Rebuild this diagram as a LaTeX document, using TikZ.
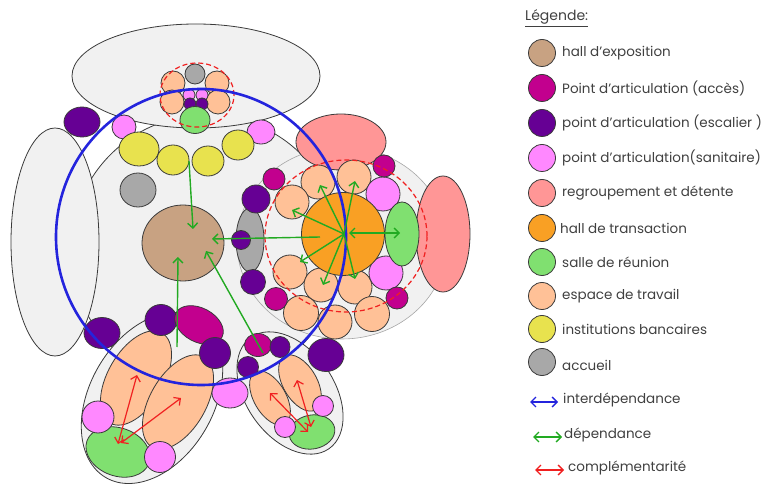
\documentclass[tikz,border=0pt]{standalone}
\usepackage{fontspec}
\setmainfont{Poppins}
\definecolor{expocol}{HTML}{C8A282}
\definecolor{accescol}{HTML}{C2008E}
\definecolor{escaliercol}{HTML}{660094}
\definecolor{sanitcol}{HTML}{FF88FF}
\definecolor{detentecol}{HTML}{FF9696}
\definecolor{transcol}{HTML}{F9A024}
\definecolor{reunioncol}{HTML}{80E070}
\definecolor{travailcol}{HTML}{FFC197}
\definecolor{banquecol}{HTML}{E8E24E}
\definecolor{accueilcol}{HTML}{A8A8A8}
\definecolor{zonecol}{HTML}{F1F1F1}
\definecolor{bordcol}{HTML}{3A3A3A}
\definecolor{textcol}{HTML}{404040}
\definecolor{interblue}{HTML}{2424DD}
\definecolor{depgreen}{HTML}{22AA22}
\definecolor{compred}{HTML}{F02020}
\usepackage{tikz}
\usetikzlibrary{arrows.meta, shapes.geometric}

\begin{document}
\begin{tikzpicture}[
    x=1pt, y=-1pt,
    dim/.style 2 args={minimum width=#1pt, minimum height=#2pt},
    espace/.style={ellipse, draw=bordcol, line width=0.8pt, inner sep=0pt},
    zone/.style={espace, fill=zonecol},
    expo/.style={espace, fill=expocol},
    acces/.style={espace, fill=accescol},
    escalier/.style={espace, fill=escaliercol},
    sanit/.style={espace, fill=sanitcol},
    detente/.style={espace, fill=detentecol},
    transac/.style={espace, fill=transcol},
    reunion/.style={espace, fill=reunioncol},
    travail/.style={espace, fill=travailcol},
    banque/.style={espace, fill=banquecol},
    accueil/.style={espace, fill=accueilcol},
    perim/.style={draw=compred, line width=1.2pt, dash pattern=on 5pt off 3pt},
    inter/.style={draw=interblue, line width=2.6pt},
    dep/.style={draw=depgreen, line width=1.4pt},
    compl/.style={draw=compred, line width=1.2pt},
    barbe/.tip={Straight Barb[length=5pt, width=10pt]},
    leg/.style={anchor=west, text=textcol, font=\fontsize{13.5}{15}\selectfont, inner sep=0pt}
  ]
  \useasboundingbox (0,0) rectangle (771,486);

  % zones de fond
  \node[zone, dim={270}{270}] (corps) at (206,250) {};
  \node[zone, dim={88}{228}] (ouest) at (55,242) {};
  \node[zone, dim={248}{104}] (nord) at (196,76) {};
  \node[zone, draw=gray!70, line width=0.6pt, dim={210}{192}] (est) at (342,243) {};

  % pole nord
  \node[accueil, dim={20}{20}] (n-acc) at (195,74) {};
  \node[travail, dim={24}{24}] (n-t1) at (173,83) {};
  \node[travail, dim={24}{24}] (n-t2) at (217,83) {};
  \node[travail, dim={24}{24}] (n-t3) at (172,102) {};
  \node[travail, dim={24}{24}] (n-t4) at (218,102) {};
  \node[sanit, dim={12}{12}] (n-s1) at (189,95) {};
  \node[sanit, dim={12}{12}] (n-s2) at (202,95) {};
  \node[escalier, dim={12}{12}] (n-e1) at (190,104) {};
  \node[escalier, dim={12}{12}] (n-e2) at (202,104) {};
  \node[reunion, dim={30}{27}] (n-r) at (195,120) {};
  \draw[perim] (197,95) ellipse (37pt and 32pt);

  % banques et hall d'exposition
  \node[escalier, dim={36}{30}] (o-e) at (82,122) {};
  \node[sanit, dim={24}{24}] (o-s1) at (124,127) {};
  \node[sanit, dim={28}{24}] (o-s2) at (261,132) {};
  \node[banque, dim={40}{34}] (b1) at (139,149) {};
  \node[banque, dim={32}{30}] (b2) at (173,160) {};
  \node[banque, dim={32}{30}] (b3) at (208,161) {};
  \node[banque, dim={32}{30}] (b4) at (238,145) {};
  \node[accueil, dim={36}{34}] (o-acc) at (138,190) {};
  \node[expo, dim={82}{76}] (hall) at (183,243) {};

  % pole est : hall de transaction
  \node[detente, dim={90}{56}] (det1) at (341,142) {};
  \node[detente, dim={54}{116}] (det2) at (443,234) {};
  \node[travail, dim={34}{34}] (e-t1) at (318,182) {};
  \node[travail, dim={34}{34}] (e-t2) at (354,177) {};
  \node[travail, dim={34}{34}] (e-t3) at (292,202) {};
  \node[travail, dim={34}{34}] (e-t4) at (290,272) {};
  \node[travail, dim={34}{34}] (e-t5) at (321,285) {};
  \node[travail, dim={34}{34}] (e-t6) at (355,287) {};
  \node[travail, dim={35}{35}] (e-t7) at (301,313) {};
  \node[travail, dim={34}{34}] (e-t8) at (335,322) {};
  \node[travail, dim={35}{35}] (e-t9) at (372,314) {};
  \node[sanit, dim={34}{34}] (e-s1) at (383,194) {};
  \node[sanit, dim={34}{34}] (e-s2) at (386,273) {};
  \node[reunion, dim={34}{64}] (e-r) at (402,234) {};
  \node[transac, dim={83}{83}] (trans) at (343,234) {};
  \node[acces, dim={22}{22}] (e-a1) at (384,166) {};
  \node[acces, dim={22}{22}] (e-a2) at (397,298) {};
  \node[acces, dim={23}{23}] (e-a3) at (276,299) {};
  \node[acces, dim={22}{22}] (e-a4) at (274,179) {};
  \node[accueil, dim={28}{64}] (e-acc) at (250,240) {};
  \node[escalier, dim={28}{28}] (e-e1) at (256,199) {};
  \node[escalier, dim={25}{25}] (e-e2) at (253,282) {};
  \node[escalier, dim={19}{19}] (e-e3) at (241,240) {};
  \draw[perim] (346,236) ellipse (81pt and 76pt);

  % pole sud-ouest
  \node[zone, dim={184}{124}, rotate=60] (so) at (152,398) {};
  \node[travail, dim={104}{56}, rotate=60] (so-t1) at (136,378) {};
  \node[travail, dim={104}{56}, rotate=60] (so-t2) at (178,402) {};
  \node[reunion, dim={66}{48}, rotate=-20] (so-r) at (118,452) {};
  \node[sanit, dim={32}{32}] (so-s1) at (98,417) {};
  \node[sanit, dim={31}{31}] (so-s2) at (160,457) {};
  \node[escalier, dim={36}{31}] (so-e1) at (102,333) {};
  \node[escalier, dim={32}{31}] (so-e2) at (161,320) {};
  \node[acces, dim={52}{34}, rotate=-28] (so-a) at (199,325) {};
  \node[escalier, dim={31}{31}] (so-e3) at (215,353) {};

  % pole sud-est
  \node[zone, dim={136}{88}, rotate=-55] (se) at (290,393) {};
  \node[travail, dim={60}{32}, rotate=-60] (se-t1) at (270,398) {};
  \node[travail, dim={62}{34}, rotate=-60] (se-t2) at (300,383) {};
  \node[reunion, dim={46}{34}, rotate=10] (se-r) at (312,432) {};
  \node[sanit, dim={21}{21}] (se-s1) at (285,427) {};
  \node[sanit, dim={21}{21}] (se-s2) at (323,406) {};
  \node[acces, dim={27}{23}] (se-a) at (258,345) {};
  \node[escalier, dim={20}{21}] (se-e1) at (280,347) {};
  \node[escalier, dim={21}{21}] (se-e2) at (248,367) {};
  \node[escalier, dim={36}{33}] (se-e3) at (326,355) {};
  \node[sanit, dim={36}{30}] (so-s3) at (230,393) {};

  % interdependance
  \draw[inter] (201,237) ellipse (145pt and 148pt);

  % dependances
  \coordinate (tc) at (344,234);
  \draw[dep, -{barbe}] (tc) -- (320,185);
  \draw[dep, -{barbe}] (tc) -- (355,181);
  \draw[dep, -{barbe}] (tc) -- (292,210);
  \draw[dep, -{barbe}] (tc) -- (300,262);
  \draw[dep, -{barbe}] (tc) -- (323,285);
  \draw[dep, -{barbe}] (tc) -- (355,279);
  \draw[dep, {barbe}-{barbe}] (349,233) -- (400,233);
  \draw[dep, -{barbe}] (320,237) -- (212,239);
  \draw[dep, -{barbe}] (189,161) -- (193,229);
  \draw[dep, -{barbe}] (177,347) -- (178,257);
  \draw[dep, -{barbe}] (263,353) -- (206,251);

  % complementarites
  \draw[compl, {barbe}-{barbe}] (118,444) -- (137,375);
  \draw[compl, {barbe}-{barbe}] (121,443) -- (181,398);
  \draw[compl, {barbe}-{barbe}] (270,393) -- (308,432);
  \draw[compl, {barbe}-{barbe}] (297,380) -- (311,427);

  % legende
  \node[leg, font=\fontsize{14}{16}\selectfont] (titre) at (525,18) {\underline{Légende:}};
  \node[expo, dim={27}{27}] (l1) at (542,53) {};
  \node[acces, dim={27}{27}] (l2) at (542,88) {};
  \node[escalier, dim={27}{27}] (l3) at (542,123) {};
  \node[sanit, dim={27}{27}] (l4) at (542,158) {};
  \node[detente, dim={27}{27}] (l5) at (542,193) {};
  \node[transac, dim={27}{27}] (l6) at (542,228) {};
  \node[reunion, dim={27}{27}] (l7) at (542,262) {};
  \node[travail, dim={27}{27}] (l8) at (542,296) {};
  \node[banque, dim={27}{27}] (l9) at (542,329) {};
  \node[accueil, dim={27}{27}] (l10) at (542,362) {};
  \node[leg] at (562,53) {hall d’exposition};
  \node[leg] at (562,88) {Point d’articulation (accès)};
  \node[leg] at (562,123) {point d’articulation (escalier )};
  \node[leg] at (562,158) {point d’articulation(sanitaire)};
  \node[leg] at (562,193) {regroupement et détente};
  \node[leg] at (560,228) {hall de transaction};
  \node[leg] at (562,262) {salle de réunion};
  \node[leg] at (562,296) {espace de travail};
  \node[leg] at (562,329) {institutions bancaires};
  \node[leg] at (562,365) {accueil};
  \coordinate (f1a) at (530,402); \coordinate (f1b) at (558,402);
  \coordinate (f2a) at (533,437); \coordinate (f2b) at (562,437);
  \coordinate (f3a) at (535,470); \coordinate (f3b) at (564,470);
  \draw[draw=interblue, line width=1.3pt, {barbe}-{barbe}] (f1a) -- (f1b);
  \draw[dep, line width=1.3pt, {barbe}-{barbe}] (f2a) -- (f2b);
  \draw[compl, line width=1.3pt, {barbe}-{barbe}] (f3a) -- (f3b);
  \node[leg] at (563,400) {interdépendance};
  \node[leg] at (564,435) {dépendance};
  \node[leg] at (568,468) {complémentarité};
\end{tikzpicture}
\end{document}
